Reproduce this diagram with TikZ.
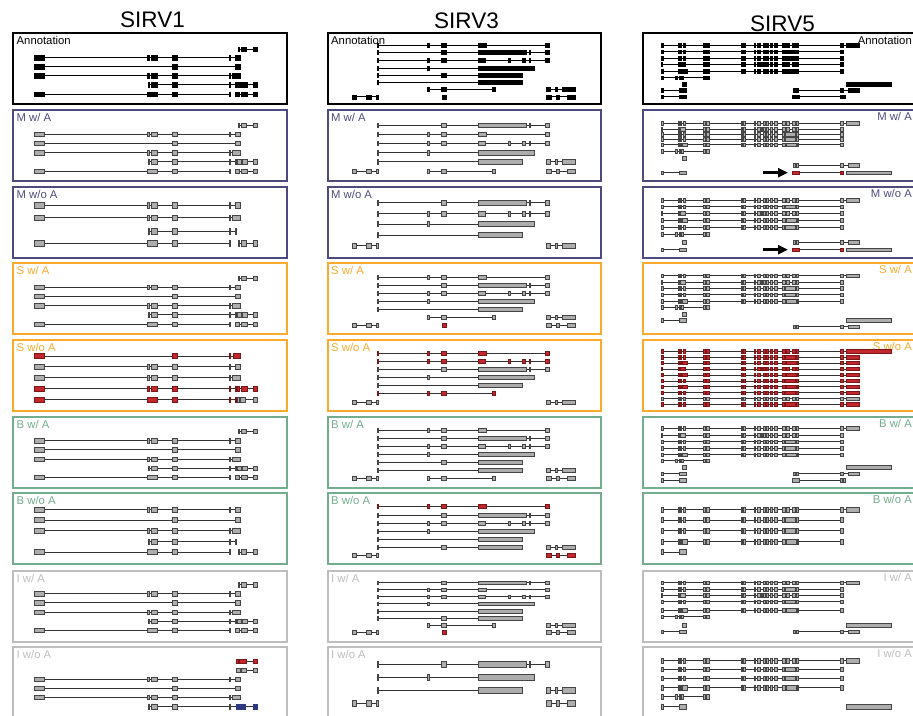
\documentclass[tikz,border=0pt]{standalone}
\usepackage{fontspec}
\setmainfont{Liberation Sans}
\usetikzlibrary{arrows.meta}
\definecolor{exg}{HTML}{ADADAD}
\definecolor{exd}{HTML}{454545}
\definecolor{exr}{HTML}{C1272D}
\definecolor{exrd}{HTML}{7A1518}
\definecolor{exn}{HTML}{2E3A80}
\definecolor{txl}{HTML}{333333}
\definecolor{cM}{HTML}{4D4B7E}
\definecolor{cS}{HTML}{FAAB2D}
\definecolor{cB}{HTML}{73AD8D}
\definecolor{cI}{HTML}{BEBEBE}
\tikzset{
 txline/.style={draw=txl, line width=0.9pt},
 XK/.style={fill=black, draw=black, line width=0.3pt},
 XG/.style={fill=exg, draw=exd, line width=0.45pt},
 XR/.style={fill=exr, draw=exrd, line width=0.45pt},
 XN/.style={fill=exn, draw=exn, line width=0.45pt},
 frame/.style={line width=2.6pt},
 lab/.style={font=\fontsize{11.3}{12}\selectfont, inner sep=0pt},
 ttl/.style={font=\fontsize{22.5}{24}\selectfont, inner sep=0pt, anchor=base},
}
\def\exh{4}
\newcommand\tx[5]{%
  \draw[txline] (#2,#1) -- (#3,#1);
  \foreach \a/\b in {#4}{\draw[#5] (\a,{#1-\exh/2}) rectangle (\b,{#1+\exh/2});}%
}
% ---------- SIRV1 ----------
\newcommand\oneA[2]{\tx{#1}{238}{257}{238/239.5,241/246,253/257}{#2}}
\newcommand\oneB[2]{\tx{#1}{34}{240}{34/44,147/149,151/157,172/177,229/230.5,235/240}{#2}}
\newcommand\oneC[2]{\tx{#1}{34}{240}{34/44,172/177,235/240}{#2}}
\newcommand\oneD[2]{\tx{#1}{34}{240}{34/44,147/149,151/157,172/177,229/230.5,232/240}{#2}}
\newcommand\oneE[2]{\tx{#1}{148}{257}{148/149.5,151/157,172/177,229/230.5,235/236.2,237.5/241.5,242.5/247.5,253/257}{#2}}
\newcommand\oneF[2]{\tx{#1}{34}{230.5}{34/44,147/157,172/177,229/230.5}{#2}\tx{#1}{235}{257}{235/239.5,241/247,253/257}{#2}}
\newcommand\oneG[2]{\tx{#1}{148}{236.5}{148/149.5,151/157,172/177,229/230.5,235/236.5}{#2}}
\newcommand\oneH[2]{\tx{#1}{34}{230.5}{34/44,147/157,172/177,229/230.5}{#2}\tx{#1}{238}{257}{238/239.5,241/246,253/257}{#2}}
\newcommand\oneI[2]{\tx{#1}{34}{240}{34/44,172/177,229/230.5,233/240}{#2}}
\newcommand\oneJ[2]{\tx{#1}{34}{257}{34/44,147/149,151/157,172/177,229/230.5,235/236.5,237.5/239,241.5/247.5,253/257}{#2}}
% ---------- SIRV3 ----------
\newcommand\thrA[2]{\tx{#1}{377}{549}{377/378.5,427/429,441.5/446.5,478/486,545/549}{#2}}
\newcommand\thrB[2]{\tx{#1}{377}{549}{377/378.5,441.5/446.5,478/526,529/530.5,545/549}{#2}}
\newcommand\thrC[2]{\tx{#1}{377}{549}{377/378.5,427/429,441.5/446.5,478/485.5,508.5/510.5,522.5/525.5,529/530.5,545/549}{#2}}
\newcommand\thrD[2]{\tx{#1}{377}{534}{377/378.5,427/429,478/534}{#2}}
\newcommand\thrE[2]{\tx{#1}{377}{522}{377/378.5,441.5/446.5,478/522}{#2}}
\newcommand\thrF[2]{\tx{#1}{377}{522}{377/378.5,478/522}{#2}}
\newcommand\thrG[2]{\tx{#1}{427}{495}{427/429,441.5/446.5,492/495}{#2}}
\newcommand\thrGr[2]{\tx{#1}{377}{495}{377/378.5,427/429,441.5/446.5,492/495}{#2}}
\newcommand\thrH[2]{\tx{#1}{546}{575}{546/550.5,555.5/557.5,562/575}{#2}}
\newcommand\thrI[2]{\tx{#1}{352.5}{378}{352.5/356.5,366/371.5,376.5/378}{#2}}
\newcommand\thrJ[2]{\tx{#1}{442}{442}{442/446}{#2}}
\newcommand\thrK[2]{\tx{#1}{546}{575}{546/551,556/559,567/575}{#2}}
% ---------- SIRV5 ----------
\newcommand\fivA[2]{\tx{#1}{661}{859}{661/663,678/679,680.5/681.5,683/685,703/705.5,706.5/709.5,741/742.5,743.5/745,754/755.5,757/760,763/765,766/768.5,770/772.5,774.5/777,782.5/785,786/789,792/795,796/798.5,840.5/843,846/859}{#2}}
\newcommand\fivAx[2]{\tx{#1}{661}{891}{661/663,678/679,680.5/681.5,683/685,703/705.5,706.5/709.5,741/742.5,743.5/745,754/755.5,757/760,763/765,766/768.5,770/772.5,774.5/777,782.5/785,786/789,792/795,796/798.5,840.5/843,846/891}{#2}}
\newcommand\fivB[2]{\tx{#1}{661}{843}{661/663,678/679,680.5/681.5,683/685,703/705.5,706.5/709.5,741/742.5,743.5/745,754/755.5,757/760,763/765,766/768.5,770/772.5,774.5/777,782.5/784,785.5/795,796/798.5,840.5/843}{#2}}
\newcommand\fivC[2]{\tx{#1}{661}{843}{661/662.5,678/679.5,680.5/685,703/705.5,706.5/709.5,741/742.5,743.5/745,754/755.5,757/760,761/762,763/765,766/768.5,770/772.5,774.5/777,782.5/785,786/789,792/795,796/798.5,840.5/843}{#2}}
\newcommand\fivD[2]{\tx{#1}{661}{843}{661/663,678/679,680/681.5,682.5/687,703/705.5,706.5/709.5,741/742.5,743.5/745,754/755.5,757/760,763/765,766/768.5,770/772.5,774.5/777,782.5/785,786/796,797/798.5,840.5/843}{#2}}
\newcommand\fivS[2]{\tx{#1}{661}{709.5}{661/663,675/677,679/680.5,681.5/683,703/705.5,706.5/709.5}{#2}}
\newcommand\fivM[2]{\tx{#1}{682}{682}{682/686}{#2}}
\newcommand\fivBar[2]{\tx{#1}{846}{846}{846/891}{#2}}
\newcommand\fivR[2]{\tx{#1}{793}{859}{793/795,796/798.5,840.5/843,848/859}{#2}}
\newcommand\fivQ[2]{\tx{#1}{792}{846}{792/799,840.5/842,843.5/845.5}{#2}}
\newcommand\fivL[2]{\tx{#1}{661}{686}{661/663,679/686}{#2}}
\newcommand\fivRed[2]{\tx{#1}{792}{843}{792/799,840.5/843}{#2}}
\newcommand\fivEnd[2]{\tx{#1}{843}{859}{846/859}{#2}}

\begin{document}
\begin{tikzpicture}[x=1pt,y=-1pt]
\useasboundingbox (0,0) rectangle (913,715);
\clip (0,0) rectangle (913,715);
\fill[white] (0,0) rectangle (913,715);

% titles
\node[ttl] (t1) at (152.5,27.5) {SIRV1};
\node[ttl] (t3) at (466.5,28.5) {SIRV3};
\node[ttl] (t5) at (782.5,31) {SIRV5};

% frames
\foreach \xa/\xb in {13/287,328/601,643/918}{
  \draw[line width=1.3pt, draw=black] (\xa,33) rectangle (\xb,104);
  \draw[frame, draw=cM] (\xa,110) rectangle (\xb,181);
  \draw[frame, draw=cM] (\xa,187) rectangle (\xb,258);
  \draw[frame, draw=cS] (\xa,263) rectangle (\xb,334);
  \draw[frame, draw=cS] (\xa,340) rectangle (\xb,411);
  \draw[frame, draw=cB] (\xa,417) rectangle (\xb,488);
  \draw[frame, draw=cB] (\xa,493) rectangle (\xb,564);
  \draw[frame, draw=cI] (\xa,571) rectangle (\xb,642);
  \draw[frame, draw=cI] (\xa,647) rectangle (\xb,718);
}

% labels col1 / col2
\foreach \xl/\c in {16.5/a,331/b}{
  \node[lab, anchor=base west, text=black] (ann\c) at (\xl,44.5) {Annotation};
  \node[lab, anchor=base west, text=cM] (mwa\c) at (\xl,121.5) {M w/ A};
  \node[lab, anchor=base west, text=cM] (mwo\c) at (\xl,198.5) {M w/o A};
  \node[lab, anchor=base west, text=cS] (swa\c) at (\xl,274.5) {S w/ A};
  \node[lab, anchor=base west, text=cS] (swo\c) at (\xl,351.5) {S w/o A};
  \node[lab, anchor=base west, text=cB] (bwa\c) at (\xl,428.5) {B w/ A};
  \node[lab, anchor=base west, text=cB] (bwo\c) at (\xl,504.5) {B w/o A};
  \node[lab, anchor=base west, text=cI] (iwa\c) at (\xl,582.5) {I w/ A};
  \node[lab, anchor=base west, text=cI] (iwo\c) at (\xl,658.5) {I w/o A};
}
% labels col3
\node[lab, anchor=base east, text=black] (annc) at (912,44) {Annotation};
\node[lab, anchor=base east, text=cM] (mwac) at (912,120.5) {M w/ A};
\node[lab, anchor=base east, text=cM] (mwoc) at (912,197.5) {M w/o A};
\node[lab, anchor=base east, text=cS] (swac) at (912,273.5) {S w/ A};
\node[lab, anchor=base east, text=cS] (swoc) at (912,350.5) {S w/o A};
\node[lab, anchor=base east, text=cB] (bwac) at (912,427.5) {B w/ A};
\node[lab, anchor=base east, text=cB] (bwoc) at (912,503.5) {B w/o A};
\node[lab, anchor=base east, text=cI] (iwac) at (912,581.5) {I w/ A};
\node[lab, anchor=base east, text=cI] (iwoc) at (912,657.5) {I w/o A};

% ================= SIRV1 =================
\begin{scope}\colorlet{txl}{black}\def\exh{4.5}
\oneA{49}{XK}\oneB{57.7}{XK}\oneC{66.7}{XK}\oneD{75.7}{XK}\oneE{84.7}{XK}\oneF{94}{XK}
\end{scope}
\begin{scope}\def\exh{4.3}
\oneA{125.3}{XG}\oneB{134.3}{XG}\oneC{143.3}{XG}\oneD{152.7}{XG}\oneE{161.7}{XG}\oneF{171}{XG}
\end{scope}
\begin{scope}\def\exh{5.5}
\oneB{205}{XG}\oneD{217.7}{XG}\oneG{231}{XG}\oneH{243.3}{XG}
\end{scope}
\begin{scope}\def\exh{4.3}
\oneA{278.3}{XG}\oneB{287.3}{XG}\oneC{296.3}{XG}\oneD{305.7}{XG}\oneE{314.7}{XG}\oneF{324}{XG}
\end{scope}
\begin{scope}\def\exh{5}
\oneI{356}{XR}\oneB{366.7}{XG}\oneD{377.3}{XG}\oneJ{388.7}{XR}
\tx{399.3}{34}{257}{34/44,147/157,172/177,229/230.5,235/236.5}{XR}
\tx{399.3}{237.5}{257}{237.5/239,240.5/245,253/257}{XG}
\end{scope}
\begin{scope}\def\exh{4.3}
\oneA{431.3}{XG}\oneB{440.7}{XG}\oneC{449.7}{XG}\oneD{459}{XG}\oneE{468}{XG}\oneF{477}{XG}
\end{scope}
\begin{scope}\def\exh{5}
\oneB{509.3}{XG}\oneC{520}{XG}\oneD{530.7}{XG}\oneG{541.3}{XG}\oneH{552}{XG}
\end{scope}
\begin{scope}\def\exh{4.3}
\oneA{584.7}{XG}\oneB{593.7}{XG}\oneC{602.7}{XG}\oneD{612}{XG}\oneE{621}{XG}\oneF{630.3}{XG}
\end{scope}
\begin{scope}\def\exh{4.3}
\tx{661.3}{236.5}{257}{236.5/238.5,239.5/246,253/257}{XR}
\tx{670}{236}{257}{236/240,241/246,253/257}{XG}
\oneB{679.3}{XG}\oneC{688.3}{XG}\oneD{697.3}{XG}
\tx{706.7}{148}{236}{148/149.5,151/157,172/177,229/230.5}{XG}
\tx{706.7}{236}{257}{236/240,241/245.5,253/257}{XN}
\end{scope}

% ================= SIRV3 =================
\begin{scope}\colorlet{txl}{black}\def\exh{4}
\thrA{45.3}{XK}\thrB{52.3}{XK}\thrC{60.3}{XK}\thrD{68}{XK}\thrE{75.3}{XK}\thrF{82.3}{XK}
\thrG{89.3}{XK}\thrH{89.3}{XK}
\thrI{96.7}{XK}\thrJ{96.7}{XK}\thrK{96.7}{XK}
\end{scope}
\begin{scope}\def\exh{4.3}
\thrB{125.3}{XG}\thrA{134.3}{XG}\thrC{143.3}{XG}\thrD{152.7}{XG}
\thrF{161.7}{XG}\thrH{161.7}{XG}
\thrI{171}{XG}\thrG{171}{XG}\thrK{171}{XG}
\end{scope}
\begin{scope}\def\exh{5}
\thrB{202.7}{XG}\thrC{213.7}{XG}\thrD{224}{XG}\thrF{235}{XG}
\thrI{245.7}{XG}\thrH{245.7}{XG}
\end{scope}
\begin{scope}\def\exh{4}
\thrA{277.3}{XG}\thrB{285.3}{XG}\thrC{293.3}{XG}\thrD{301}{XG}\thrF{309}{XG}
\thrG{317}{XG}\thrH{317}{XG}
\thrI{325.3}{XG}\thrJ{325.3}{XR}\thrK{325.3}{XG}
\end{scope}
\begin{scope}\def\exh{4}
\thrA{353.3}{XR}\thrC{361.7}{XR}\thrB{369.7}{XG}\thrD{377.7}{XG}\thrF{385.7}{XG}
\thrGr{393.7}{XR}
\thrI{402}{XG}\thrH{402}{XG}
\end{scope}
\begin{scope}\def\exh{4}
\thrA{430}{XG}\thrB{438.3}{XG}\thrC{446.3}{XG}\thrD{454.3}{XG}\thrE{462.7}{XG}
\thrF{470.7}{XG}\thrH{470.7}{XG}
\thrI{478.3}{XG}\thrG{478.3}{XG}\thrK{478.3}{XG}
\end{scope}
\begin{scope}\def\exh{4}
\thrA{506.7}{XR}\thrB{515}{XG}\thrC{523}{XG}\thrD{531}{XG}\thrF{539}{XG}
\thrE{547}{XG}\thrH{547}{XG}
\thrI{555}{XG}\thrK{555}{XR}
\end{scope}
\begin{scope}\def\exh{3.8}
\thrB{582.7}{XG}\thrA{589.7}{XG}\thrC{596.7}{XG}\thrD{603.7}{XG}\thrF{611}{XG}\thrE{618.3}{XG}
\thrG{625.3}{XG}\thrH{625.3}{XG}
\thrI{632.3}{XG}\thrJ{632.3}{XR}\thrK{632.3}{XG}
\end{scope}
\begin{scope}\def\exh{6}
\thrB{664.3}{XG}\thrD{677.3}{XG}
\thrF{690}{XG}\thrH{690}{XG}
\thrI{703.3}{XG}\thrK{703.3}{XG}
\end{scope}

% ================= SIRV5 =================
\begin{scope}\colorlet{txl}{black}\def\exh{3.5}
\fivA{45}{XK}\fivB{51.7}{XK}\fivB{58.3}{XK}\fivC{64.3}{XK}\fivD{71}{XK}\fivS{77.7}{XK}
\fivM{84.3}{XK}\fivBar{84.3}{XK}
\fivL{90}{XK}\fivR{90}{XK}
\fivL{96.7}{XK}\fivQ{96.7}{XK}
\end{scope}
\begin{scope}\def\exh{3.6}
\fivA{123.3}{XG}\fivC{129.3}{XG}\fivB{134.3}{XG}\fivB{139.3}{XG}\fivD{144.7}{XG}\fivS{151}{XG}
\fivM{158.3}{XG}
\fivR{165}{XG}
\fivL{172.7}{XG}\fivRed{172.7}{XR}\fivBar{172.7}{XG}
\coordinate (a1s) at (763,172.7);
\coordinate (a1e) at (788,172.7);
\draw[line width=3pt,-{Triangle[length=10pt,width=9pt]}] (a1s) -- (a1e);
\end{scope}
\begin{scope}\def\exh{3.6}
\fivA{200}{XG}\fivB{206.7}{XG}\fivC{213.3}{XG}\fivD{220}{XG}\fivB{227.3}{XG}\fivS{234}{XG}
\fivM{242.3}{XG}\fivR{242.3}{XG}
\fivL{249.7}{XG}\fivRed{249.7}{XR}\fivBar{249.7}{XG}
\coordinate (a2s) at (763,249.7);
\coordinate (a2e) at (788,249.7);
\draw[line width=3pt,-{Triangle[length=10pt,width=9pt]}] (a2s) -- (a2e);
\end{scope}
\begin{scope}\def\exh{3.6}
\fivA{275.7}{XG}\fivC{282}{XG}\fivB{288.3}{XG}\fivB{294.7}{XG}\fivD{301}{XG}\fivS{307.3}{XG}
\fivM{314}{XG}
\fivL{320.3}{XG}\fivBar{320.3}{XG}
\fivR{326.7}{XG}
\end{scope}
\begin{scope}\def\exh{3.4}
\fivAx{351.3}{XR}
\fivB{357.3}{XR}\fivEnd{357.3}{XR}
\fivD{363}{XR}\fivEnd{363}{XR}
\fivC{369}{XR}\fivEnd{369}{XR}
\fivD{375}{XR}\fivEnd{375}{XR}
\fivB{381}{XR}\fivEnd{381}{XR}
\fivD{386.7}{XR}\fivEnd{386.7}{XR}
\fivB{392.7}{XR}\fivEnd{392.7}{XR}
\fivA{398.7}{XG}
\fivB{404.3}{XR}\fivEnd{404.3}{XR}
\end{scope}
\begin{scope}\def\exh{3.6}
\fivA{428.3}{XG}\fivC{435.3}{XG}\fivB{441.7}{XG}\fivB{448}{XG}\fivD{454.7}{XG}\fivS{460.7}{XG}
\fivM{467.3}{XG}\fivBar{467.3}{XG}
\fivL{473.7}{XG}\fivR{473.7}{XG}
\fivL{480}{XG}\fivQ{480}{XG}
\end{scope}
\begin{scope}\def\exh{5}
\fivA{509.3}{XG}\fivB{520}{XG}\fivB{530.7}{XG}\fivD{541.3}{XG}\fivL{552}{XG}
\end{scope}
\begin{scope}\def\exh{3.6}
\fivA{582.7}{XG}\fivB{589}{XG}\fivC{595.3}{XG}\fivB{601.7}{XG}\fivD{610}{XG}\fivS{616.7}{XG}
\fivM{625}{XG}\fivBar{625}{XG}
\fivL{631.7}{XG}\fivR{631.7}{XG}
\end{scope}
\begin{scope}\def\exh{4.5}
\fivA{660.7}{XG}\fivB{669.3}{XG}\fivB{678.3}{XG}\fivD{687.7}{XG}\fivS{696.7}{XG}
\fivL{706.7}{XG}\fivBar{706.7}{XG}
\end{scope}
\end{tikzpicture}
\end{document}
